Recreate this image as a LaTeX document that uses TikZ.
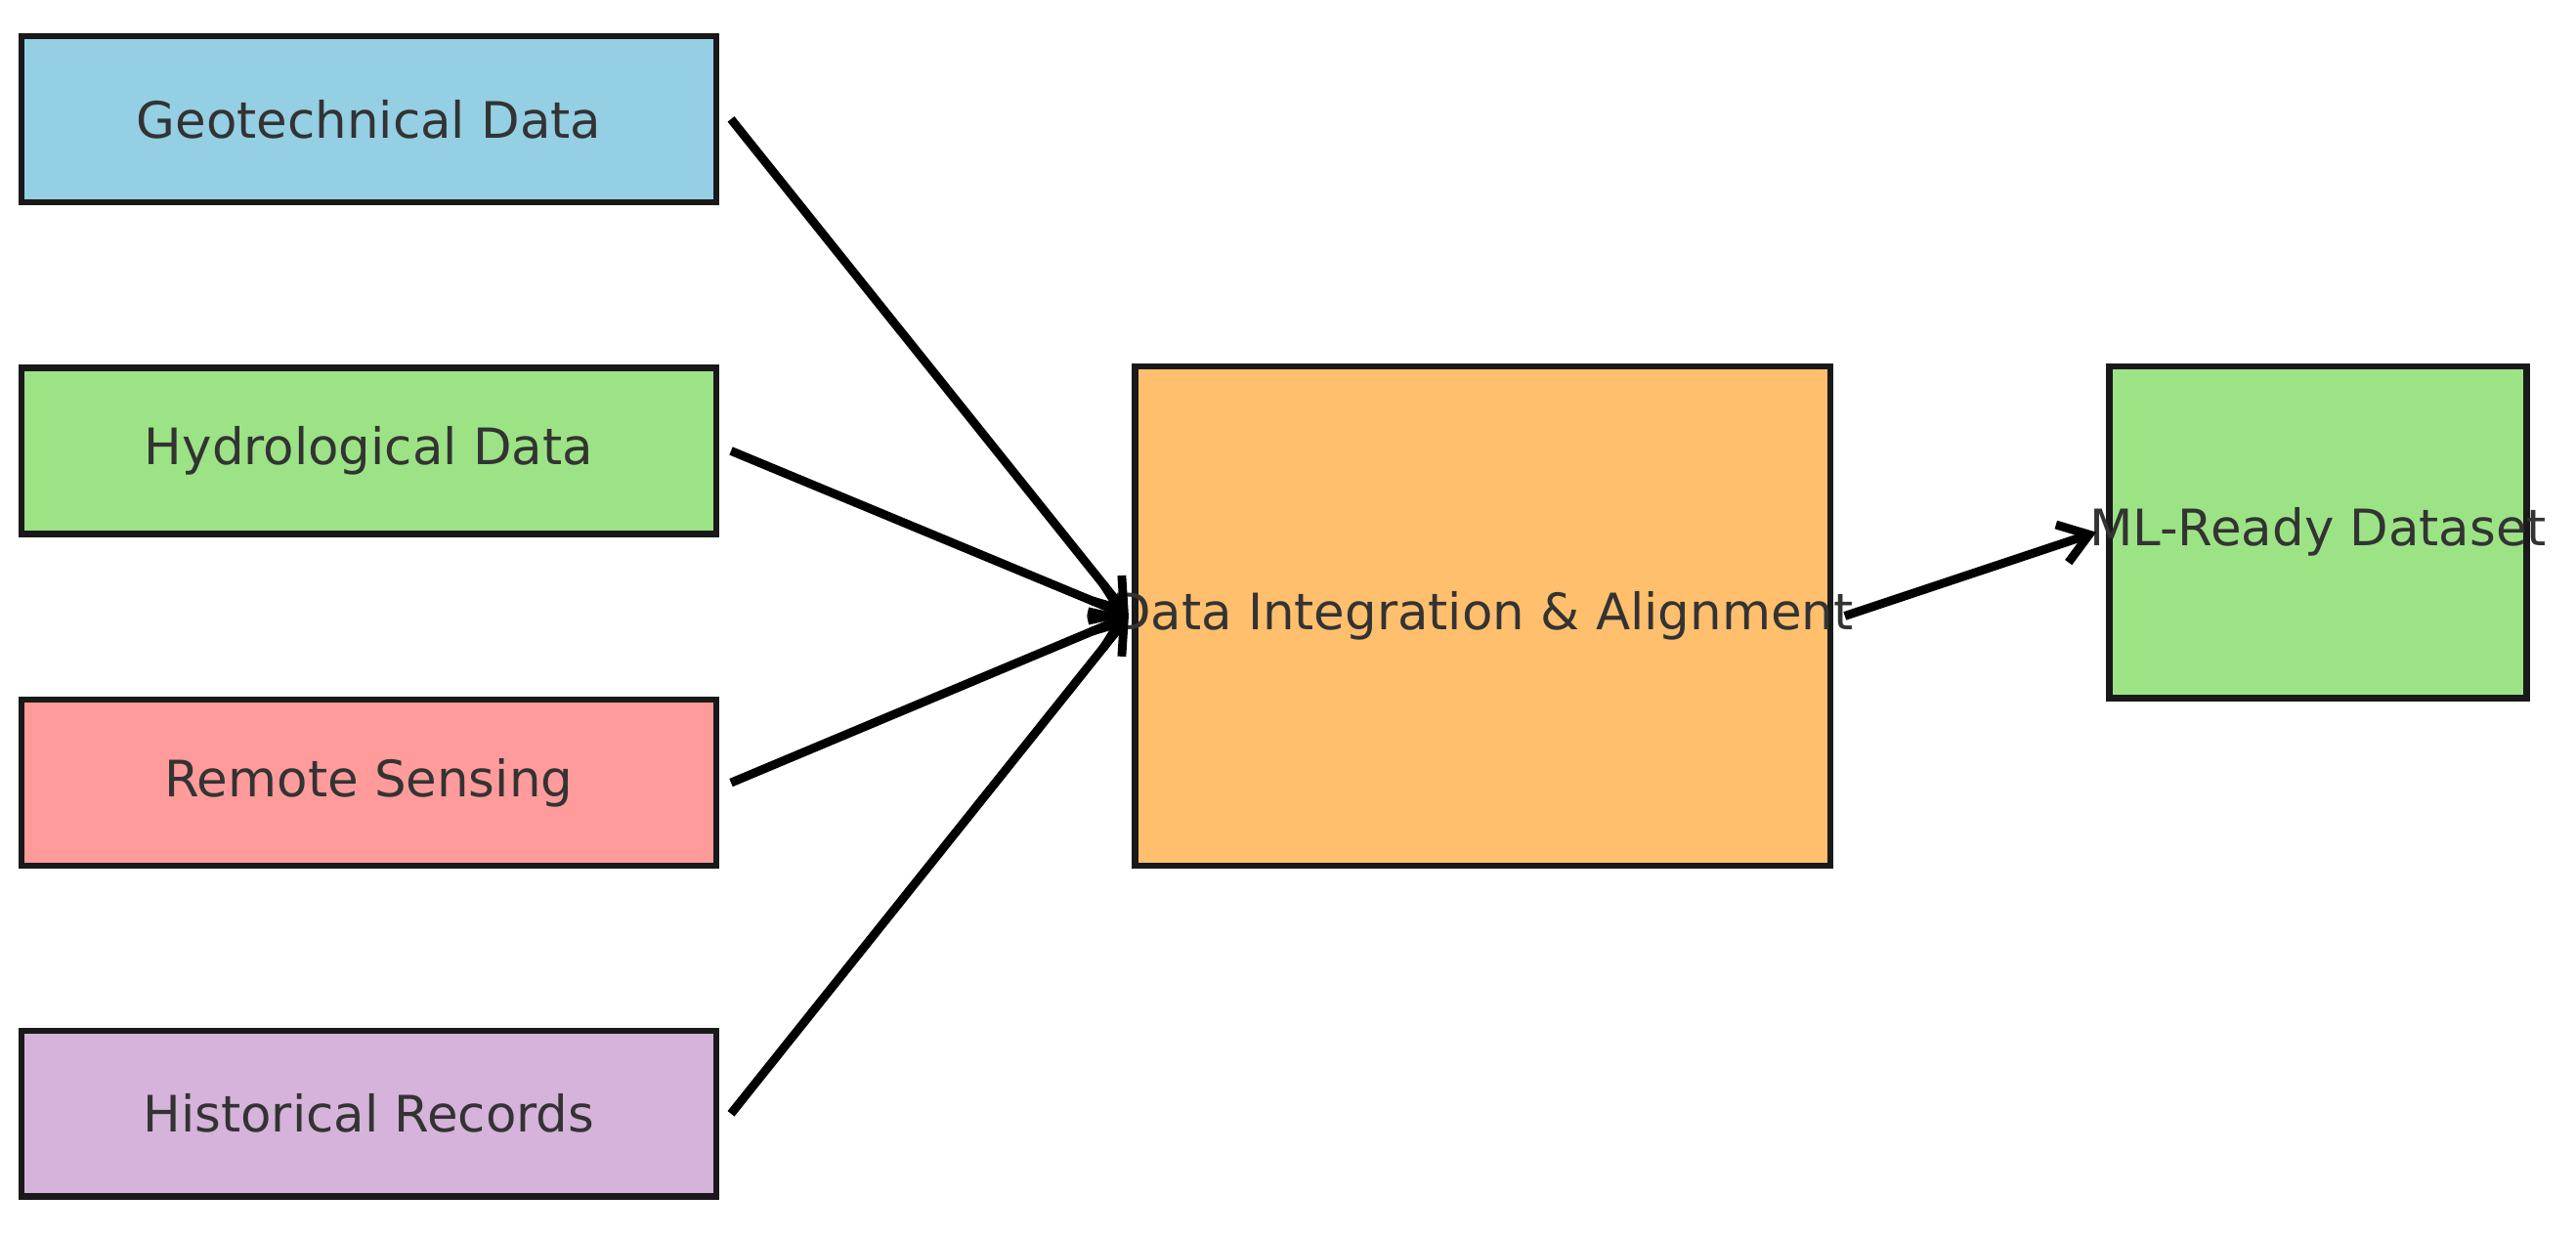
\documentclass[tikz,border=0pt]{standalone}
\usepackage{fontspec}
\setmainfont{DejaVu Sans}
\usetikzlibrary{arrows.meta}
\definecolor{cgeo}{HTML}{94CFE4}
\definecolor{chyd}{HTML}{9CE385}
\definecolor{crem}{HTML}{FF9B9B}
\definecolor{chis}{HTML}{D6B3DA}
\definecolor{cint}{HTML}{FFBF6D}
\definecolor{ctxt}{HTML}{333333}
\begin{document}
\begin{tikzpicture}[x=1cm,y=1cm,
 box/.style={draw=black!90,line width=1.1pt,minimum width=4.23cm,minimum height=1.01cm,inner sep=0pt},
 lbl/.style={text=ctxt,font=\fontsize{8.7pt}{10pt}\selectfont,inner sep=0pt},
 arr/.style={line width=1.5pt,-{Straight Barb[angle=70:6pt]}}]
\useasboundingbox (0,0) rectangle (15.68,7.53);
\node[box,fill=cgeo] (geo) at (2.245,6.805) {};
\node[lbl] (geot) at (geo) {Geotechnical Data};
\node[box,fill=chyd] (hyd) at (2.245,4.785) {};
\node[lbl] (hydt) at (hyd) {Hydrological Data};
\node[box,fill=crem] (rem) at (2.245,2.765) {};
\node[lbl] (remt) at (rem) {Remote Sensing};
\node[box,fill=chis] (his) at (2.245,0.75) {};
\node[lbl] (hist) at (his) {Historical Records};
\node[box,fill=cint,minimum height=3.04cm] (int) at (9.025,3.78) {};
\node[lbl] (intt) at (int) {Data Integration \& Alignment};
\node[box,fill=chyd,minimum width=2.54cm,minimum height=2.02cm] (ml) at (14.11,4.29) {};
\node[lbl] (mlt) at (ml) {ML-Ready Dataset};
\coordinate (in) at (6.87,3.78);
\coordinate (mlin) at (12.76,4.29);
\foreach \n in {geo,hyd,rem,his}{\draw[arr] ([xshift=2pt]\n.east) -- (in);}
\draw[arr] ([xshift=2pt]int.east) -- (mlin);
\end{tikzpicture}
\end{document}
